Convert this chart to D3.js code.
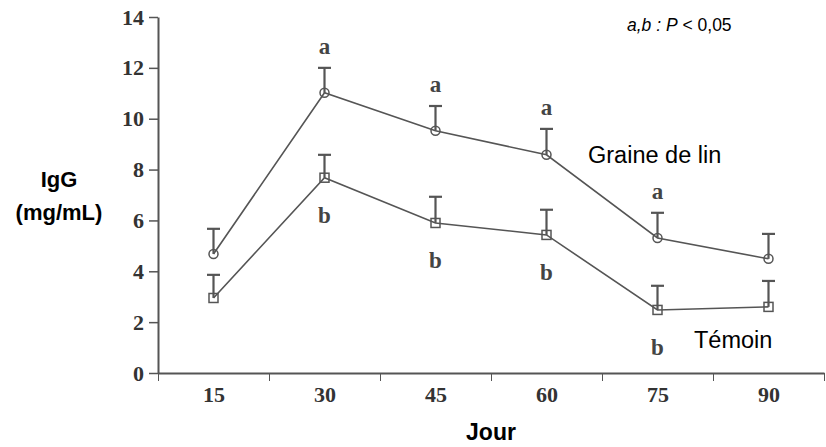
<!DOCTYPE html>
<html lang="fr">
<head>
<meta charset="utf-8">
<title>IgG par jour</title>
<script src="https://cdn.jsdelivr.net/npm/d3@7"></script>
<style>
  body { margin: 0; background: #fff; }
  .tick text { font-family: "Liberation Serif", serif; font-weight: bold; fill: #333; }
  .axis path, .axis line { stroke: #555; }
</style>
</head>
<body>
<div id="chart"></div>
<script>
"use strict"

// donnees
var jours = [15, 30, 45, 60, 75, 90];
var graine = [4.68, 11.02, 9.53, 8.58, 5.31, 4.49];
var graineErr = [0.99, 0.98, 0.97, 1.02, 0.99, 0.98];
var temoin = [2.95, 7.68, 5.90, 5.43, 2.48, 2.60];
var temoinErr = [0.91, 0.90, 1.03, 0.99, 0.95, 1.02];
var graineSig = ["", "a", "a", "a", "a", ""];
var temoinSig = ["", "b", "b", "b", "b", ""];
var yTicks = [0, 2, 4, 6, 8, 10, 12, 14];

var largeur = 826, hauteur = 447;
var x0 = 158, x1 = 824, yBas = 373, yHaut = 17;
var couleur = "#555";

var svg = d3.select("#chart").append("svg")
    .attr("width", largeur)
    .attr("height", hauteur);

var xScale = d3.scalePoint().domain(jours).range([x0, x1]).padding(0.5);
var xBords = d3.scaleLinear().domain([0, jours.length]).range([x0, x1]);
var yScale = d3.scaleLinear().domain([0, 14]).range([yBas, yHaut]);

// axe x : graduations aux bords, etiquettes au centre
svg.append("g")
    .attr("class", "axis")
    .attr("transform", "translate(0," + yBas + ")")
    .call(d3.axisBottom(xBords).tickValues(d3.range(jours.length + 1)).tickFormat("").tickSize(8).tickSizeOuter(0))
    .call(g => g.select(".domain").attr("stroke-width", 2));

svg.append("g")
    .attr("class", "axis")
    .attr("transform", "translate(0," + yBas + ")")
    .call(d3.axisBottom(xScale).tickSize(0).tickPadding(13))
    .call(g => g.select(".domain").remove())
    .call(g => g.selectAll("text").attr("font-size", 22));

svg.append("g")
    .attr("class", "axis")
    .attr("transform", "translate(" + x0 + ",0)")
    .call(d3.axisLeft(yScale).tickValues(yTicks).tickSize(9).tickSizeOuter(0).tickPadding(5))
    .call(g => g.select(".domain").attr("stroke-width", 2))
    .call(g => g.selectAll("line").attr("stroke-width", 1.5))
    .call(g => g.selectAll("text").attr("font-size", 22));

// titres des axes
svg.append("text")
    .attr("x", (x0 + x1) / 2).attr("y", 440)
    .attr("text-anchor", "middle")
    .attr("font-family", "Liberation Sans, Arial, sans-serif")
    .attr("font-weight", "bold").attr("font-size", 23)
    .text("Jour");

var titreY = svg.append("text")
    .attr("text-anchor", "middle")
    .attr("font-family", "Liberation Sans, Arial, sans-serif")
    .attr("font-weight", "bold").attr("font-size", 22);
titreY.append("tspan").attr("x", 59).attr("y", 187).text("IgG");
titreY.append("tspan").attr("x", 59).attr("y", 220).text("(mg/mL)");

function serie(valeurs, erreurs, sig, forme, decalSig) {
    var pts = jours.map((j, i) => ({ j: j, v: valeurs[i], e: erreurs[i], s: sig[i] }));
    var g = svg.append("g");

    g.append("path")
        .datum(pts)
        .attr("fill", "none")
        .attr("stroke", couleur)
        .attr("stroke-width", 1.6)
        .attr("d", d3.line().x(d => xScale(d.j)).y(d => yScale(d.v)));

    // barres d'erreur
    g.selectAll(".err").data(pts).enter().append("line")
        .attr("x1", d => xScale(d.j)).attr("x2", d => xScale(d.j))
        .attr("y1", d => yScale(d.v)).attr("y2", d => yScale(d.v + d.e))
        .attr("stroke", couleur).attr("stroke-width", 2.2);
    g.selectAll(".cap").data(pts).enter().append("line")
        .attr("x1", d => xScale(d.j) - 6.5).attr("x2", d => xScale(d.j) + 6.5)
        .attr("y1", d => yScale(d.v + d.e)).attr("y2", d => yScale(d.v + d.e))
        .attr("stroke", couleur).attr("stroke-width", 2.2);

    if (forme === "cercle") {
        g.selectAll(".m").data(pts).enter().append("circle")
            .attr("cx", d => xScale(d.j)).attr("cy", d => yScale(d.v))
            .attr("r", 4.5)
            .attr("fill", "none").attr("stroke", couleur).attr("stroke-width", 1.5);
    } else {
        g.selectAll(".m").data(pts).enter().append("rect")
            .attr("x", d => xScale(d.j) - 4.5).attr("y", d => yScale(d.v) - 4.5)
            .attr("width", 9).attr("height", 9)
            .attr("fill", "none").attr("stroke", couleur).attr("stroke-width", 1.5);
    }

    g.selectAll(".sig").data(pts.filter(d => d.s)).enter().append("text")
        .attr("x", d => xScale(d.j))
        .attr("y", d => decalSig(d))
        .attr("text-anchor", "middle")
        .attr("font-family", "Liberation Serif, serif")
        .attr("font-weight", "bold").attr("font-size", 23)
        .attr("fill", "#444")
        .text(d => d.s);
}

serie(graine, graineErr, graineSig, "cercle", d => yScale(d.v + d.e) - 14);
serie(temoin, temoinErr, temoinSig, "carre", d => yScale(d.v) + 45);

// etiquettes des series
svg.append("text")
    .attr("x", 588).attr("y", 163)
    .attr("font-family", "Liberation Sans, Arial, sans-serif")
    .attr("font-size", 23.5)
    .text("Graine de lin");
svg.append("text")
    .attr("x", 694).attr("y", 348)
    .attr("font-family", "Liberation Sans, Arial, sans-serif")
    .attr("font-size", 23.5)
    .text("Témoin");

// note de significativite
var note = svg.append("text")
    .attr("x", 627).attr("y", 31)
    .attr("font-family", "Liberation Sans, Arial, sans-serif")
    .attr("font-size", 17.5);
note.append("tspan").attr("font-style", "italic").text("a,b : P");
note.append("tspan").text(" < 0,05");
</script>
</body>
</html>
